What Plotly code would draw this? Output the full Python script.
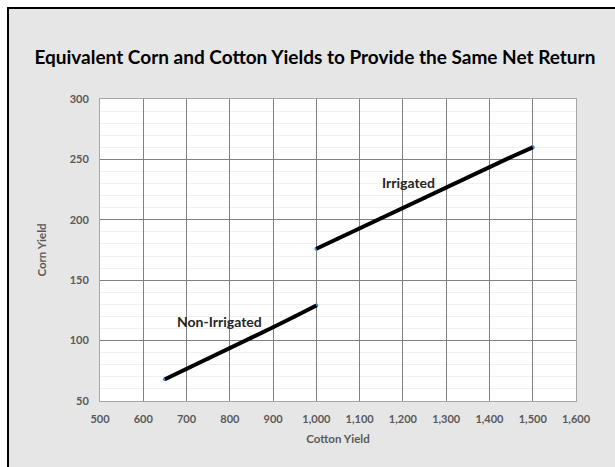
import plotly.graph_objects as go

# Data
non_irr_cotton = [650, 700, 750, 800, 850, 900, 950, 1000]
non_irr_corn = [68, 76.5, 85, 94, 102.5, 111, 120, 129]
irr_cotton = [1000, 1050, 1100, 1150, 1200, 1250, 1300, 1350, 1400, 1450, 1500]
irr_corn = [176, 184.5, 193, 201.5, 210, 218, 226.5, 235, 243.5, 252, 260]

x_ticks = [500, 600, 700, 800, 900, 1000, 1100, 1200, 1300, 1400, 1500, 1600]
y_ticks = [50, 100, 150, 200, 250, 300]

W, H = 615, 467
ML, MR, MT, MB = 100, 39, 99, 66
pw, ph = W - ML - MR, H - MT - MB

def px_x(p):
    return (p - ML) / pw

def px_y(p):
    return (H - MB - p) / ph

FONT = "Lato"
fig = go.Figure()

for xs, ys in [(non_irr_cotton, non_irr_corn), (irr_cotton, irr_corn)]:
    fig.add_trace(go.Scatter(x=xs, y=ys, mode="markers",
                             marker=dict(color="#4a90d9", size=4),
                             showlegend=False, hoverinfo="skip"))
for xs, ys, name in [(non_irr_cotton, non_irr_corn, "Non-Irrigated"),
                     (irr_cotton, irr_corn, "Irrigated")]:
    fig.add_trace(go.Scatter(x=xs, y=ys, mode="lines", name=name,
                             line=dict(color="black", width=4),
                             showlegend=False))

fig.add_annotation(x=777, y=116, text="<b>Non-Irrigated</b>", showarrow=False,
                   font=dict(family=FONT, size=14, color="#262626"))
fig.add_annotation(x=1212, y=231, text="<b>Irrigated</b>", showarrow=False,
                   font=dict(family=FONT, size=14, color="#262626"))

# outer gray frame with black border, and white plot area
fig.add_shape(type="rect", xref="paper", yref="paper",
              x0=px_x(8), x1=px_x(630), y0=px_y(480), y1=px_y(8),
              fillcolor="#e6e6e6", line=dict(color="black", width=2), layer="below")
fig.add_shape(type="rect", xref="paper", yref="paper",
              x0=0, x1=1, y0=0, y1=1,
              fillcolor="white", line=dict(width=0), layer="below")

axis_common = dict(showline=True, mirror=True, linecolor="#a6a6a6", linewidth=1,
                   gridcolor="#808080", gridwidth=1, zeroline=False,
                   ticks="", ticklabelstandoff=8,
                   tickfont=dict(family=FONT, size=11, color="#595959", weight="bold"))

fig.update_xaxes(range=[500, 1600], tickvals=x_ticks, tickformat=",",
                 title=dict(text="<b>Cotton Yield</b>", standoff=10,
                            font=dict(family=FONT, size=11.5, color="#595959")),
                 **axis_common)
fig.update_yaxes(range=[50, 300], tickvals=y_ticks,
                 minor=dict(dtick=10, showgrid=True, gridcolor="#f0f0f0", gridwidth=1),
                 title=dict(text="<b>Corn Yield</b>", standoff=20,
                            font=dict(family=FONT, size=11.5, color="#595959")),
                 **axis_common)

fig.update_layout(
    width=W, height=H,
    margin=dict(l=ML, r=MR, t=MT, b=MB, autoexpand=False),
    paper_bgcolor="white", plot_bgcolor="rgba(0,0,0,0)",
    title=dict(text="<b>Equivalent Corn and Cotton Yields to Provide the Same Net Return</b>",
               x=0.512, xanchor="center", y=1 - 57 / H, yanchor="middle",
               font=dict(family=FONT, size=19, color="black")),
)

fig.write_html("out.html")
